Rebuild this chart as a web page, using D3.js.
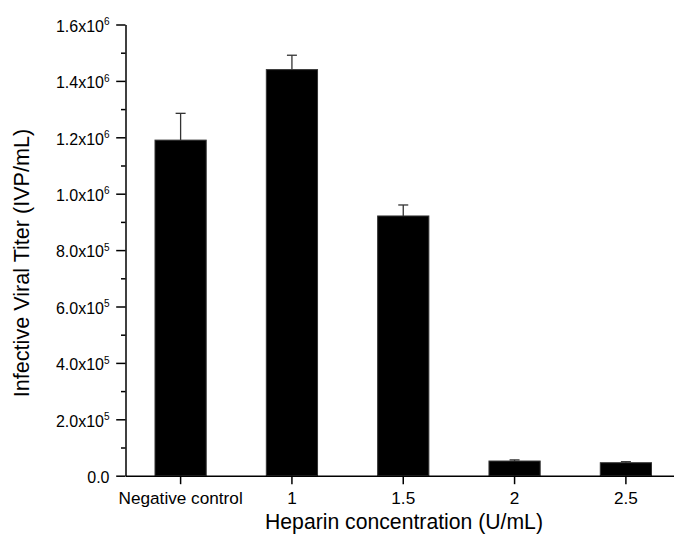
<!DOCTYPE html>
<html>
<head>
<meta charset="utf-8">
<script src="https://cdn.jsdelivr.net/npm/d3@7"></script>
<style>
  body { margin: 0; background: #fff; }
</style>
</head>
<body>
<div id="chart"></div>
<script>
// values
const categories = ["Negative control", "1", "1.5", "2", "2.5"];
const titers = [1190000, 1440000, 921000, 52000, 46000];
const errors = [95000, 51000, 39000, 4000, 3600];

const majorTicks = [0, 200000, 400000, 600000, 800000, 1000000, 1200000, 1400000, 1600000];
const tickMantissa = ["0.0", "2.0", "4.0", "6.0", "8.0", "1.0", "1.2", "1.4", "1.6"];
const tickExponent = [null, 5, 5, 5, 5, 6, 6, 6, 6];
const minorTicks = [100000, 300000, 500000, 700000, 900000, 1100000, 1300000, 1500000];

const data = categories.map((c, i) => ({ cat: c, value: titers[i], err: errors[i] }));

const W = 674, H = 537;
const plotLeft = 125.5, plotTop = 24.5, plotBottom = 475.7;
const font = "'Liberation Sans', Arial, sans-serif";

const svg = d3.select("#chart").append("svg")
    .attr("width", W)
    .attr("height", H)
    .style("font-family", font);

const y = d3.scaleLinear()
    .domain([0, 1600000])
    .range([plotBottom, plotTop]);

const x = d3.scaleBand()
    .domain(categories)
    .range([plotLeft, 681])
    .paddingInner(0.54)
    .paddingOuter(0.265);

// bars
svg.selectAll(".bar")
    .data(data)
    .enter()
    .append("rect")
    .attr("class", "bar")
    .attr("x", d => x(d.cat))
    .attr("y", d => y(d.value))
    .attr("width", x.bandwidth())
    .attr("height", d => y(0) - y(d.value))
    .style("fill", "#000")
    .style("stroke", "#333")
    .style("stroke-width", 1);

// error bars (upper only)
const eb = svg.selectAll(".err")
    .data(data)
    .enter()
    .append("g")
    .attr("class", "err")
    .style("stroke", "#333")
    .style("stroke-width", 1.3);

eb.append("line")
    .attr("x1", d => x(d.cat) + x.bandwidth() / 2)
    .attr("x2", d => x(d.cat) + x.bandwidth() / 2)
    .attr("y1", d => y(d.value))
    .attr("y2", d => y(d.value + d.err));

eb.append("line")
    .attr("x1", d => x(d.cat) + x.bandwidth() / 2 - 5)
    .attr("x2", d => x(d.cat) + x.bandwidth() / 2 + 5)
    .attr("y1", d => y(d.value + d.err))
    .attr("y2", d => y(d.value + d.err));

// y axis
const gY = svg.append("g")
    .attr("transform", `translate(${plotLeft},0)`)
    .call(d3.axisLeft(y).tickValues(majorTicks).tickSize(9.3).tickSizeOuter(0));

gY.append("g")
    .call(d3.axisLeft(y).tickValues(minorTicks).tickSize(4.5).tickSizeOuter(0).tickFormat(""))
    .select(".domain").remove();

gY.selectAll("path, line").style("stroke", "#000").style("stroke-width", 1.5);

gY.selectAll(".tick text").each(function(d) {
    const i = majorTicks.indexOf(d);
    if (i < 0) return;
    const t = d3.select(this)
        .text(null)
        .attr("x", -16)
        .attr("dy", "0.42em")
        .attr("font-size", 16)
        .attr("font-family", font)
        .style("fill", "#000")
        .attr("text-anchor", "end");
    if (tickExponent[i] === null) {
        t.text(tickMantissa[i]);
    } else {
        t.append("tspan").text(tickMantissa[i] + "x10");
        t.append("tspan").attr("font-size", 10).attr("dy", -6.5).text(tickExponent[i]);
    }
});

// x axis
const gX = svg.append("g")
    .attr("transform", `translate(0,${plotBottom})`)
    .call(d3.axisBottom(x).tickSize(8.5).tickSizeOuter(0));

gX.selectAll("path, line").style("stroke", "#000").style("stroke-width", 1.5);
gX.selectAll(".tick text")
    .attr("y", 16.5)
    .attr("font-size", 17.2)
    .attr("font-family", font)
    .style("fill", "#000");

// axis titles
svg.append("text")
    .attr("x", 404)
    .attr("y", 528.5)
    .attr("text-anchor", "middle")
    .attr("font-size", 21.2)
    .text("Heparin concentration (U/mL)");

svg.append("text")
    .attr("transform", "rotate(-90)")
    .attr("x", -263)
    .attr("y", 29)
    .attr("text-anchor", "middle")
    .attr("font-size", 21.6)
    .text("Infective Viral Titer (IVP/mL)");
</script>
</body>
</html>
